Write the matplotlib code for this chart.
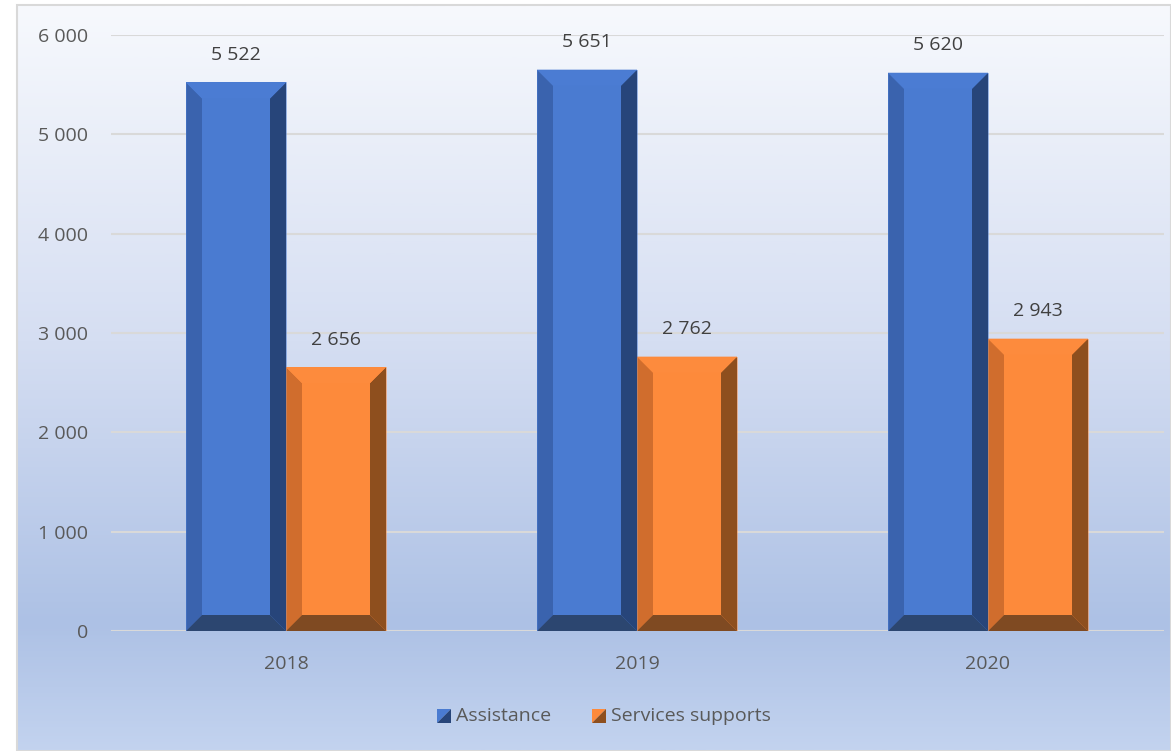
import matplotlib
matplotlib.use("Agg")
import matplotlib.pyplot as plt
import numpy as np
from matplotlib.patches import Polygon, Rectangle
from matplotlib.colors import LinearSegmentedColormap

years = ["2018", "2019", "2020"]
assistance = [5522, 5651, 5620]
services = [2656, 2762, 2943]
series_names = ["Assistance", "Services supports"]
yticks = [0, 1000, 2000, 3000, 4000, 5000, 6000]

def fmt(v):
    return f"{v:,}".replace(",", " ")

plt.rcParams['font.family'] = ['Open Sans', 'DejaVu Sans']
FS = 14

W, H = 1171, 751
fig = plt.figure(figsize=(W / 100, H / 100), dpi=100)

# background gradient panel
bg = fig.add_axes([0, 0, 1, 1], zorder=-10)
bg.set_xlim(0, W); bg.set_ylim(H, 0); bg.axis("off")
cmap = LinearSegmentedColormap.from_list(
    "bgc", [(0.0, "#f7f9fd"), (0.45, "#d5def2"), (0.83, "#adc1e5"), (1.0, "#c3d3ef")])
grad = np.linspace(0, 1, 500).reshape(-1, 1)
bg.imshow(grad, cmap=cmap, aspect="auto", extent=[17, W, H, 5], zorder=0)
bg.add_patch(Rectangle((17, 5), W - 17, H - 5, fill=False, edgecolor="#d9d9d9", lw=1.5, zorder=1))

# main axes: x from 110.5 to 1163.5 px, y 0 at 631 px, 6000 at 35 px
left = 110.5 / W
right = 1163.5 / W
y0 = 631 / H
y6 = 35 / H
ax = fig.add_axes([left, 1 - y0, right - left, y0 - y6])
ax.patch.set_alpha(0)
ax.set_xlim(-0.5, 2.5)
ax.set_ylim(0, 6000)
for s in ax.spines.values():
    s.set_visible(False)
ax.set_yticks(yticks)
ax.set_yticklabels([fmt(v) for v in yticks], fontsize=FS, color="#595959")
ax.set_xticks(range(len(years)))
ax.set_xticklabels(years, fontsize=FS, color="#595959")
ax.tick_params(length=0, pad=16, axis="y")
ax.tick_params(length=0, pad=17, axis="x")
ax.yaxis.grid(True, color="#d9d9d9", lw=1.5)
ax.set_axisbelow(True)

bw = 100 / 351.0
x = np.arange(len(years))
bx = 1.0 / 351.0 * 16  # bevel horizontal in data units
by = 6000 / 596.0 * 16  # bevel vertical in data units

styles = [
    dict(face="#4a7bd1", left="#3a63ae", right="#27457a", top="#4b7cd3", bottom="#2c4670"),
    dict(face="#fd8a3b", left="#d06d2d", right="#8e4f1e", top="#fd8b3d", bottom="#7f4a22"),
]

def bevel_bar(xc, h, st):
    x0, x1 = xc - bw / 2, xc + bw / 2
    bars = ax.bar(xc, h, width=bw, color=st["face"], edgecolor="none", zorder=3)
    ix0, ix1 = x0 + bx, x1 - bx
    iy0, iy1 = by, h - by
    polys = [
        ([(x0, 0), (x0, h), (ix0, iy1), (ix0, iy0)], st["left"]),
        ([(x1, 0), (x1, h), (ix1, iy1), (ix1, iy0)], st["right"]),
        ([(x0, h), (x1, h), (ix1, iy1), (ix0, iy1)], st["top"]),
        ([(x0, 0), (x1, 0), (ix1, iy0), (ix0, iy0)], st["bottom"]),
    ]
    for pts, c in polys:
        ax.add_patch(Polygon(pts, closed=True, facecolor=c, edgecolor="none", zorder=4))
    ax.add_patch(Rectangle((x0, 0), bw, h, fill=False, edgecolor=st["face"], lw=0.6, zorder=5, alpha=0.6))
    ax.text(xc, h + 275, fmt(h), ha="center", va="center", fontsize=FS, color="#404040", zorder=6)
    return bars

for i in range(len(years)):
    bevel_bar(x[i] - bw / 2, assistance[i], styles[0])
    bevel_bar(x[i] + bw / 2, services[i], styles[1])

# legend
def legend_item(px, label, st):
    s = 14
    py = 716
    lx = px / W
    la = fig.add_axes([lx, 1 - (py + s / 2) / H, s / W, s / H])
    la.set_xlim(0, 1); la.set_ylim(0, 1); la.axis("off")
    la.add_patch(Polygon([(0, 0), (0, 1), (1, 1)], facecolor=st["face"], edgecolor="none"))
    la.add_patch(Polygon([(0, 0), (1, 0), (1, 1)], facecolor=st["right"], edgecolor="none"))
    fig.text((px + s + 5) / W, 1 - py / H, label, ha="left", va="center", fontsize=FS, color="#595959")

legend_item(437, series_names[0], styles[0])
legend_item(592, series_names[1], styles[1])

fig.savefig("out.png", dpi=100)
